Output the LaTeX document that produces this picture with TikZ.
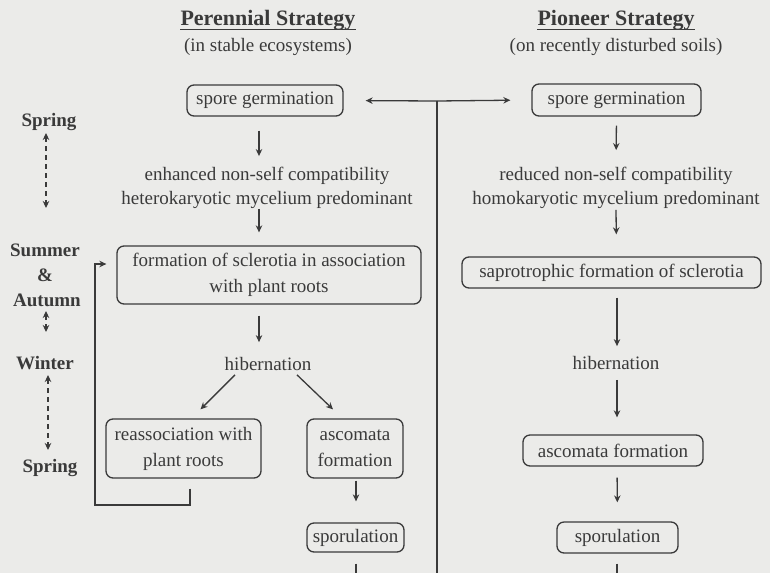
\documentclass[tikz,border=0pt]{standalone}
\usepackage{fontspec}
\setmainfont{Liberation Serif}
\usetikzlibrary{arrows.meta}
\definecolor{ink}{HTML}{3A3A3A}
\definecolor{paper}{HTML}{EBEBE9}
\begin{document}
\begin{tikzpicture}[x=1pt,y=-1pt,
  font=\fontsize{19}{24}\selectfont,
  every node/.style={text=ink},
  box/.style={draw=ink, line width=1.3pt, rounded corners=7pt, inner sep=0pt, align=center, font=\fontsize{19}{26}\selectfont},
  txt/.style={inner sep=0pt, align=center},
  title/.style={inner sep=0pt, font=\fontsize{22}{26}\selectfont\bfseries},
  season/.style={inner sep=0pt, font=\fontsize{19}{24}\selectfont\bfseries},
  arr/.style={draw=ink, line width=1.3pt, -{Stealth[length=7pt,width=6.5pt]}},
  darr/.style={draw=ink, line width=1.3pt, dashed, dash pattern=on 5pt off 4pt, {Stealth[length=7pt,width=6.5pt]}-{Stealth[length=7pt,width=6.5pt]}},
  plain/.style={draw=ink, line width=1.3pt}]
\fill[paper] (0,0) rectangle (770,573);
\useasboundingbox (0,0) rectangle (770,573);

% titles
\node[title] (t1) at (268,20) {Perennial Strategy};
\draw[plain, line width=1pt] ([yshift=-4.5pt]t1.base west) -- ([yshift=-4.5pt]t1.base east);
\node[txt] (s1) at (268,47) {(in stable ecosystems)};
\node[title] (t2) at (616,20) {Pioneer Strategy};
\draw[plain, line width=1pt] ([yshift=-4.5pt]t2.base west) -- ([yshift=-4.5pt]t2.base east);
\node[txt] (s2) at (616,47) {(on recently disturbed soils)};

% seasons
\node[season] (sp1) at (49,122) {Spring};
\node[season] (su) at (45,250) {Summer};
\node[season] (amp) at (45,275) {\&};
\node[season] (au) at (47,300) {Autumn};
\node[season] (wi) at (45,363) {Winter};
\node[season] (sp2) at (50,468) {Spring};
\coordinate (d1a) at (46,133); \coordinate (d1b) at (46,208);
\coordinate (d2a) at (46,311); \coordinate (d2b) at (46,332);
\coordinate (d3a) at (48,375); \coordinate (d3b) at (48,450);
\draw[darr] (d1a) -- (d1b);
\draw[darr] (d2a) -- (d2b);
\draw[darr] (d3a) -- (d3b);

% left column
\node[box, minimum width=156pt, minimum height=31pt] (sg1) at (265,100.5) {spore germination};
\node[txt] (e1) at (267,188) {enhanced non-self compatibility\\heterokaryotic mycelium predominant};
\node[box, minimum width=304pt, minimum height=58pt] (form) at (269,275) {formation of sclerotia in association\\with plant roots};
\node[txt] (hib1) at (268,364) {hibernation};
\node[box, minimum width=155pt, minimum height=59pt] (rea) at (183.5,448.5) {reassociation with\\plant roots};
\node[box, minimum width=96pt, minimum height=59pt] (asc1) at (355,448.5) {ascomata\\formation};
\node[box, minimum width=97pt, minimum height=29pt] (spo1) at (355.5,537.5) {sporulation};
\coordinate (end1) at (356,573);

\draw[arr, shorten <=14pt, shorten >=11pt] ([xshift=-6pt]sg1.south) -- ([xshift=-8pt]e1.north);
\draw[arr, shorten >=13pt] ([xshift=-8pt]e1.south) -- ([xshift=-10pt]form.north);
\draw[arr, shorten <=11pt, shorten >=15pt] ([xshift=-10pt]form.south) -- ([xshift=-9pt]hib1.north);
\draw[arr] ([xshift=-33pt,yshift=-4pt]hib1.south) -- ([xshift=17pt,yshift=9pt]rea.north);
\draw[arr] ([xshift=29pt,yshift=-4pt]hib1.south) -- ([xshift=-22pt,yshift=9pt]asc1.north);
\draw[arr, shorten <=2pt, shorten >=21pt] ([xshift=1pt]asc1.south) -- ([xshift=0.5pt]spo1.north);
\draw[plain, shorten <=11pt] ([xshift=0.5pt]spo1.south) -- (end1);

% feedback loop
\coordinate (loopc) at (95,505);
\draw[arr] ([xshift=6.5pt,yshift=-10pt]rea.south) |- (loopc) |- ([xshift=-10pt,yshift=11pt]form.west);

% centre divider and double arrow
\coordinate (hub) at (437,101);
\coordinate (hubend) at (437,573);
\draw[plain] (hub) -- (hubend);
\draw[arr, shorten >=22pt] (hub) -- (sg1.east);

% right column
\node[box, minimum width=169pt, minimum height=32pt] (sg2) at (616.5,100) {spore germination};
\draw[arr, shorten >=21pt] (hub) -- (sg2.west);
\node[txt] (e2) at (616,188) {reduced non-self compatibility\\homokaryotic mycelium predominant};
\node[box, minimum width=299pt, minimum height=31pt] (sap) at (611.5,272.5) {saprotrophic formation of sclerotia};
\node[txt] (hib2) at (616,363) {hibernation};
\node[box, minimum width=180pt, minimum height=31pt] (asc2) at (613,450.5) {ascomata formation};
\node[box, minimum width=121pt, minimum height=31pt] (spo2) at (617.5,537.5) {sporulation};
\coordinate (end2) at (617,573);

\draw[arr, shorten <=9pt, shorten >=17pt] (sg2.south) -- (e2.north);
\draw[arr, shorten <=1pt, shorten >=22pt] (e2.south) -- ([xshift=5pt]sap.north);
\draw[arr, shorten <=9pt, shorten >=10pt] ([xshift=5.5pt]sap.south) -- ([xshift=1pt]hib2.north);
\draw[arr, shorten <=10pt, shorten >=17pt] ([xshift=1pt]hib2.south) -- ([xshift=4pt]asc2.north);
\draw[arr, shorten <=11pt, shorten >=19pt] ([xshift=4pt]asc2.south) -- (spo2.north);
\draw[plain, shorten <=10pt] ([xshift=-0.5pt]spo2.south) -- (end2);
\end{tikzpicture}
\end{document}
